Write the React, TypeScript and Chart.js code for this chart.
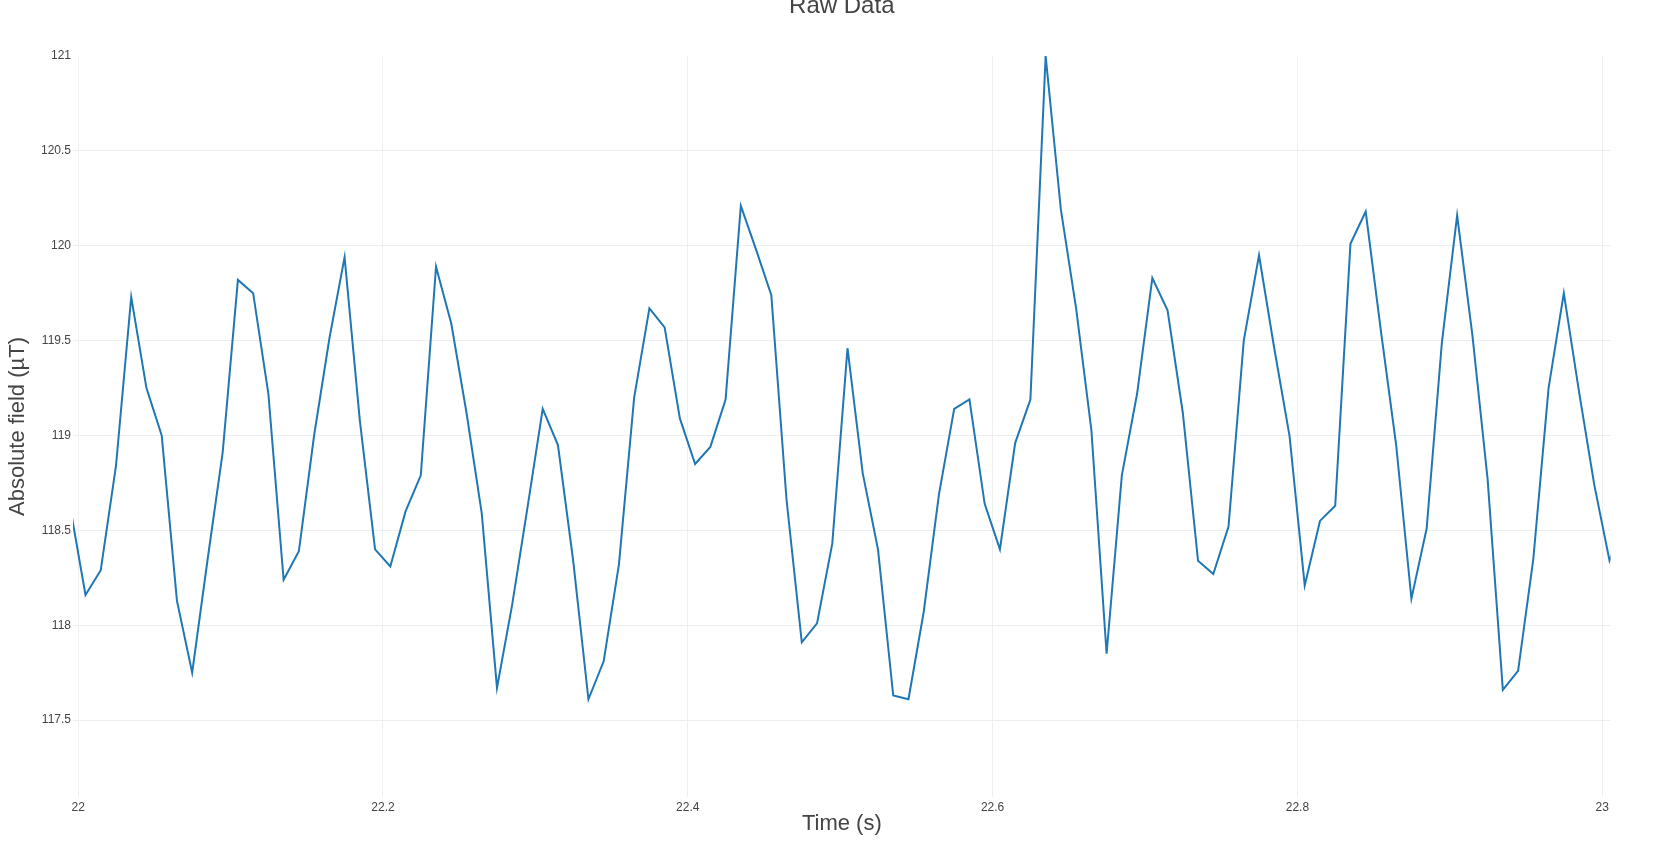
import React, { useEffect, useRef } from 'react';
import { Chart, registerables } from 'chart.js';

Chart.register(...registerables);

// ---- data ----
const TIME_START = 21.9948; // s, first sample
const SAMPLE_INTERVAL = 0.01; // s, 100 Hz sampling
const FIELD_VALUES = [
  118.62, 118.16, 118.29, 118.84, 119.73, 119.25, 119.0, 118.13, 117.75, 118.34,
  118.91, 119.82, 119.75, 119.22, 118.24, 118.39, 119.0, 119.51, 119.94, 119.08,
  118.4, 118.31, 118.6, 118.79, 119.89, 119.59, 119.12, 118.59, 117.67, 118.11,
  118.62, 119.14, 118.95, 118.34, 117.61, 117.81, 118.32, 119.2, 119.67, 119.57,
  119.09, 118.85, 118.94, 119.19, 120.21, 119.98, 119.74, 118.66, 117.91, 118.01,
  118.43, 119.46, 118.8, 118.4, 117.63, 117.61, 118.07, 118.69, 119.14, 119.19,
  118.64, 118.4, 118.96, 119.19, 121.0, 120.19, 119.67, 119.03, 117.85, 118.79,
  119.22, 119.83, 119.66, 119.12, 118.34, 118.27, 118.52, 119.5, 119.95, 119.46,
  119.0, 118.21, 118.55, 118.63, 120.01, 120.18, 119.55, 118.95, 118.14, 118.51,
  119.49, 120.16, 119.53, 118.77, 117.66, 117.76, 118.35, 119.25, 119.75, 119.23,
  118.74, 118.34, 118.55,
];
const X_TICKS = [22, 22.2, 22.4, 22.6, 22.8, 23];
const Y_TICKS = [117.5, 118, 118.5, 119, 119.5, 120, 120.5, 121];
const X_MIN = 21.9966;
const X_MAX = 23.0055;
const Y_MIN = 117.095;
const Y_MAX = 121.0;

const TITLE = 'Raw Data';
const X_TITLE = 'Time (s)';
const Y_TITLE = 'Absolute field (µT)';

const FONT_FAMILY = '"Liberation Sans", Arial, sans-serif';
Chart.defaults.font.family = FONT_FAMILY;

// Title centred over the plot area (like a paper-referenced title)
const plotTitlePlugin = {
  id: 'plotTitle',
  afterDraw(chart: any) {
    const { ctx, chartArea } = chart;
    ctx.save();
    ctx.font = `normal 24px ${FONT_FAMILY}`;
    ctx.fillStyle = '#444444';
    ctx.textAlign = 'center';
    ctx.textBaseline = 'middle';
    ctx.fillText(TITLE, (chartArea.left + chartArea.right) / 2, 6.6);
    ctx.restore();
  },
};

export default function App() {
  const ref = useRef<HTMLCanvasElement>(null);

  useEffect(() => {
    const points = FIELD_VALUES.map((y, i) => ({ x: TIME_START + i * SAMPLE_INTERVAL, y }));
    const chart = new Chart(ref.current as HTMLCanvasElement, {
      type: 'line',
      data: {
        datasets: [
          {
            data: points,
            borderColor: '#1f77b4',
            backgroundColor: '#1f77b4',
            borderWidth: 2,
            pointRadius: 0,
            pointHoverRadius: 0,
            tension: 0,
            fill: false,
          },
        ],
      },
      plugins: [plotTitlePlugin],
      options: {
        animation: false,
        responsive: false,
        devicePixelRatio: 1,
        events: [],
        layout: { padding: { left: 0, right: 45.4, top: 56, bottom: 0 } },
        plugins: {
          legend: { display: false },
          tooltip: { enabled: false },
          title: { display: false },
        },
        scales: {
          x: {
            type: 'linear',
            min: X_MIN,
            max: X_MAX,
            afterBuildTicks: (s: any) => {
              s.ticks = X_TICKS.map((value) => ({ value }));
            },
            afterFit: (s: any) => {
              s.height = 44;
            },
            grid: { color: '#eeeeee', lineWidth: 1, drawTicks: false },
            border: { display: false },
            ticks: {
              padding: 3,
              color: '#444444',
              font: { size: 12 },
              maxRotation: 0,
              autoSkip: false,
              callback: (v: any) => String(v),
            },
            title: {
              display: true,
              text: X_TITLE,
              color: '#444444',
              font: { size: 22 },
              padding: { top: 0, bottom: 4 },
            },
          },
          y: {
            type: 'linear',
            min: Y_MIN,
            max: Y_MAX,
            afterBuildTicks: (s: any) => {
              s.ticks = Y_TICKS.map((value) => ({ value }));
            },
            afterFit: (s: any) => {
              s.width = 73;
            },
            grid: {
              color: (ctx: any) => (ctx.tick && ctx.tick.value === 121 ? 'rgba(0,0,0,0)' : '#eeeeee'),
              lineWidth: 1,
              drawTicks: false,
            },
            border: { display: false },
            ticks: {
              padding: 2,
              color: '#444444',
              font: { size: 12 },
              autoSkip: false,
              callback: (v: any) => String(v),
            },
            title: {
              display: true,
              text: Y_TITLE,
              color: '#444444',
              font: { size: 22 },
              padding: { top: 5, bottom: 0 },
            },
          },
        },
      },
    });
    return () => chart.destroy();
  }, []);

  return (
    <canvas
      ref={ref}
      width={1656}
      height={841}
      style={{ position: 'fixed', left: 0, top: 0, display: 'block', width: 1656, height: 841 }}
    />
  );
}
